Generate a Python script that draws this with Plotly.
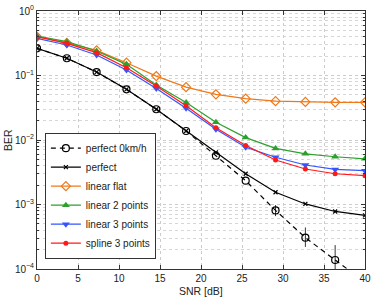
import plotly.graph_objects as go

snr_db = [0, 3.64, 7.27, 10.91, 14.55, 18.18, 21.82, 25.45, 29.09, 32.73, 36.36, 40]

ber_perfect_0kmh = [0.264, 0.185, 0.113, 0.061, 0.030, 0.0138, 0.0057, 0.00234, 0.00081, 0.000306, 0.000138, 0.000063]
ber_0kmh_upper = [None, None, None, None, None, None, None, None, 0.00098, 0.00044, 0.000235, None]
ber_0kmh_lower = [None, None, None, None, None, None, None, None, 0.00066, 0.00022, 0.00008, None]
ber_perfect = [0.264, 0.185, 0.113, 0.061, 0.030, 0.0138, 0.0064, 0.0030, 0.00155, 0.00102, 0.00078, 0.00068]
ber_linear_flat = [0.40, 0.32, 0.245, 0.158, 0.098, 0.066, 0.051, 0.0437, 0.040, 0.039, 0.0384, 0.0384]
ber_linear_2pts = [0.41, 0.335, 0.24, 0.149, 0.071, 0.038, 0.0188, 0.0109, 0.0074, 0.0061, 0.0055, 0.0051]
ber_linear_3pts = [0.376, 0.297, 0.208, 0.122, 0.063, 0.031, 0.0147, 0.0077, 0.0054, 0.0041, 0.0035, 0.00334]
ber_spline_3pts = [0.40, 0.315, 0.226, 0.132, 0.069, 0.034, 0.0155, 0.0082, 0.0049, 0.00355, 0.0030, 0.0028]

y_tick_vals = [1e-4, 1e-3, 1e-2, 1e-1, 1]
y_tick_text = ["10<sup>−4</sup>", "10<sup>−3</sup>", "10<sup>−2</sup>", "10<sup>−1</sup>", "10<sup>0</sup>"]
x_tick_vals = [0, 5, 10, 15, 20, 25, 30, 35, 40]

err_plus = [(u - v) if u is not None else 0 for u, v in zip(ber_0kmh_upper, ber_perfect_0kmh)]
err_minus = [(v - l) if l is not None else 0 for l, v in zip(ber_0kmh_lower, ber_perfect_0kmh)]

fig = go.Figure()

fig.add_trace(go.Scatter(
    x=snr_db, y=ber_perfect_0kmh, name="perfect 0km/h", mode="lines+markers",
    line=dict(color="black", width=1.2, dash="5px,4px"),
    marker=dict(symbol="circle-open", size=7, color="black", line=dict(width=1.2)),
    error_y=dict(type="data", symmetric=False, array=err_plus, arrayminus=err_minus,
                 color="black", thickness=0.8, width=0),
))
fig.add_trace(go.Scatter(
    x=snr_db, y=ber_perfect, name="perfect", mode="lines+markers",
    line=dict(color="black", width=1.2),
    marker=dict(symbol="x-thin", size=4, color="black", line=dict(width=1.2, color="black")),
))
fig.add_trace(go.Scatter(
    x=snr_db, y=ber_linear_flat, name="linear flat", mode="lines+markers",
    line=dict(color="#f07818", width=1.2),
    marker=dict(symbol="diamond-open", size=7, color="#f07818", line=dict(width=1.2)),
))
fig.add_trace(go.Scatter(
    x=snr_db, y=ber_linear_2pts, name="linear 2 points", mode="lines+markers",
    line=dict(color="#2ca02c", width=1.2),
    marker=dict(symbol="triangle-up", size=7, color="#2ca02c"),
))
fig.add_trace(go.Scatter(
    x=snr_db, y=ber_linear_3pts, name="linear 3 points", mode="lines+markers",
    line=dict(color="#3355ff", width=1.2),
    marker=dict(symbol="triangle-down", size=7, color="#3355ff"),
))
fig.add_trace(go.Scatter(
    x=snr_db, y=ber_spline_3pts, name="spline 3 points", mode="lines+markers",
    line=dict(color="#ff1a1a", width=1.2),
    marker=dict(symbol="circle", size=5, color="#ff1a1a"),
))

fam = "Liberation Sans, Arial, sans-serif"

fig.update_layout(
    width=374, height=298,
    margin=dict(l=37, r=9, t=11, b=29),
    paper_bgcolor="white", plot_bgcolor="white",
    font=dict(family=fam, size=10, color="#222222"),
    showlegend=True,
    legend=dict(
        x=0.024, y=0.04, xanchor="left", yanchor="bottom",
        bgcolor="white", bordercolor="#333333", borderwidth=1,
        font=dict(family=fam, size=10, color="#222222"),
        tracegroupgap=0, itemwidth=30,
    ),
    xaxis=dict(
        range=[0, 40], tickmode="array", tickvals=x_tick_vals,
        showline=True, linecolor="#333333", linewidth=1, mirror="ticks",
        ticks="inside", ticklen=4, tickcolor="#333333",
        showgrid=True, gridcolor="#cccccc", griddash="dot", gridwidth=1,
        zeroline=False, automargin=False,
        tickfont=dict(size=10),
    ),
    yaxis=dict(
        type="log", range=[-4, 0], tickmode="array",
        tickvals=y_tick_vals, ticktext=y_tick_text,
        showline=True, linecolor="#333333", linewidth=1, mirror="ticks",
        ticks="inside", ticklen=4, tickcolor="#333333",
        showgrid=True, gridcolor="#cccccc", griddash="dot", gridwidth=1,
        zeroline=False, automargin=False,
        minor=dict(dtick="D1", ticks="inside", ticklen=2, tickcolor="#333333",
                   showgrid=True, gridcolor="#d6d6d6", griddash="dot", gridwidth=1),
        tickfont=dict(size=10),
    ),
    annotations=[
        dict(text="SNR [dB]", xref="paper", yref="paper", x=0.5, y=0, yshift=-14,
             xanchor="center", yanchor="top", showarrow=False,
             font=dict(family=fam, size=10.5, color="#222222")),
        dict(text="BER", xref="paper", yref="paper", x=0, y=0.5, xshift=-21,
             xanchor="right", yanchor="middle", textangle=-90, showarrow=False,
             font=dict(family=fam, size=10.5, color="#222222")),
    ],
)

# remove the browser's default body margin so the figure fills the window exactly
fig.write_html("out.html", config={"displayModeBar": False},
               post_script="document.body.style.margin='0';")
